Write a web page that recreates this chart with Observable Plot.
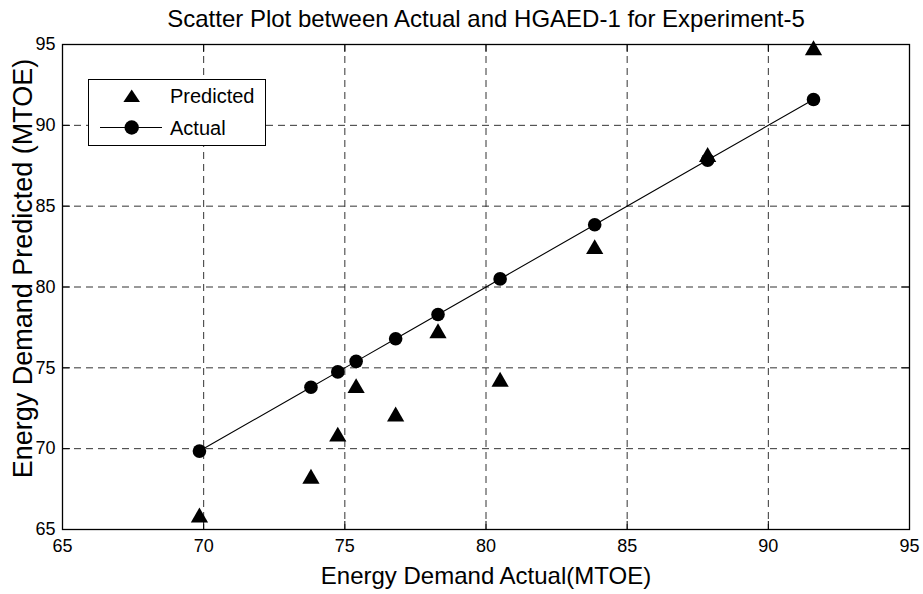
<!DOCTYPE html>
<html>
<head>
<meta charset="utf-8">
<script src="https://cdn.jsdelivr.net/npm/d3@7"></script>
<script src="https://cdn.jsdelivr.net/npm/@observablehq/plot@0.6"></script>
<style>
  html, body { margin: 0; padding: 0; background: #fff; }
  #wrap { position: relative; width: 923px; height: 594px; }
  #wrap svg { display: block; }
</style>
</head>
<body>
<div id="wrap"></div>
<script>
// ---- data ----
const titleText = "Scatter Plot between Actual and HGAED-1 for Experiment-5";
const xLabel = "Energy Demand Actual(MTOE)";
const yLabel = "Energy Demand Predicted (MTOE)";
const actual = [69.85, 73.8, 74.75, 75.4, 76.8, 78.3, 80.5, 83.85, 87.85, 91.6];
const predicted = [65.9, 68.3, 70.9, 73.9, 72.15, 77.3, 74.3, 82.5, 88.2, 94.8];
const xTicks = [65, 70, 75, 80, 85, 90, 95];
const yTicks = [65, 70, 75, 80, 85, 90, 95];
const seriesNames = ["Predicted", "Actual"];

const rows = actual.map((a, i) => ({actual: a, predicted: predicted[i]}));
const sorted = rows.slice().sort((p, q) => p.actual - q.actual);
const innerX = xTicks.slice(1, -1);
const innerY = yTicks.slice(1, -1);

const W = 923, H = 594, mT = 44, mB = 65, mL = 62, mR = 14;
const plotH = H - mT - mB, plotW = W - mL - mR;
const font = "'Liberation Sans', Arial, Helvetica, sans-serif";

const chart = Plot.plot({
  width: W, height: H,
  marginTop: mT, marginBottom: mB, marginLeft: mL, marginRight: mR,
  style: {fontFamily: font, background: "#fff", color: "#000"},
  x: {domain: [65, 95]},
  y: {domain: [65, 95]},
  marks: [
    // dashed grid
    Plot.ruleX(innerX, {stroke: "#333", strokeWidth: 1, strokeDasharray: "7,5"}),
    Plot.ruleY(innerY, {stroke: "#333", strokeWidth: 1, strokeDasharray: "7,5"}),
    // inward ticks on all four sides
    Plot.ruleX(xTicks, {stroke: "#000", insetTop: plotH - 8}),
    Plot.ruleX(xTicks, {stroke: "#000", insetBottom: plotH - 8}),
    Plot.ruleY(yTicks, {stroke: "#000", insetRight: plotW - 8}),
    Plot.ruleY(yTicks, {stroke: "#000", insetLeft: plotW - 8}),
    // axes labels (tick text)
    Plot.axisX(xTicks, {tickSize: 0, tickPadding: 10, fontSize: 18, label: null}),
    Plot.axisY(yTicks, {tickSize: 0, tickPadding: 7, fontSize: 18, label: null}),
    Plot.frame({stroke: "#000", strokeWidth: 1.3}),
    // actual line + circles
    Plot.line(sorted, {x: "actual", y: "actual", stroke: "#000", strokeWidth: 1.1}),
    Plot.dot(rows, {x: "actual", y: "actual", r: 6.8, fill: "#000", stroke: "none"}),
    // predicted triangles
    Plot.dot(rows, {x: "actual", y: "predicted", symbol: "triangle", r: 6.4, fill: "#000", stroke: "none", dy: 2.5}),
    // title and axis titles
    Plot.text([titleText], {frameAnchor: "top", dy: -25.6, lineAnchor: "middle", textAnchor: "middle", fontSize: 24, fill: "#000"}),
    Plot.text([xLabel], {frameAnchor: "bottom", dy: 46.5, lineAnchor: "middle", textAnchor: "middle", fontSize: 24, fill: "#000"}),
    Plot.text([yLabel], {frameAnchor: "left", rotate: -90, dx: -39, dy: -18.5, lineAnchor: "middle", textAnchor: "middle", fontSize: 27, fill: "#000"})
  ]
});

const wrap = document.getElementById("wrap");
wrap.appendChild(chart);

// ---- legend overlay ----
const leg = d3.select(wrap).append("svg")
  .attr("width", W).attr("height", H)
  .style("position", "absolute").style("left", "0px").style("top", "0px")
  .style("pointer-events", "none");
const box = {x: 88, y: 79, w: 177, h: 66};
leg.append("rect").attr("x", box.x + 0.5).attr("y", box.y + 0.5)
  .attr("width", box.w).attr("height", box.h)
  .attr("fill", "#fff").attr("stroke", "#000").attr("stroke-width", 1);
const rowY = [96, 127.5];
// Predicted row
const tx = 131.7, ty = rowY[0];
leg.append("polygon")
  .attr("points", `${tx},${ty - 6.5} ${tx - 8.3},${ty + 6} ${tx + 8.3},${ty + 6}`)
  .attr("fill", "#000");
// Actual row
leg.append("line").attr("x1", 100).attr("x2", 162).attr("y1", rowY[1]).attr("y2", rowY[1])
  .attr("stroke", "#000").attr("stroke-width", 1.1);
leg.append("circle").attr("cx", tx).attr("cy", rowY[1]).attr("r", 7.2).attr("fill", "#000");
leg.selectAll("text.lab").data(seriesNames).join("text")
  .attr("class", "lab")
  .attr("x", 170).attr("y", (d, i) => rowY[i] + 7.3)
  .attr("font-family", font).attr("font-size", 20).attr("fill", "#000")
  .text(d => d);
</script>
</body>
</html>
